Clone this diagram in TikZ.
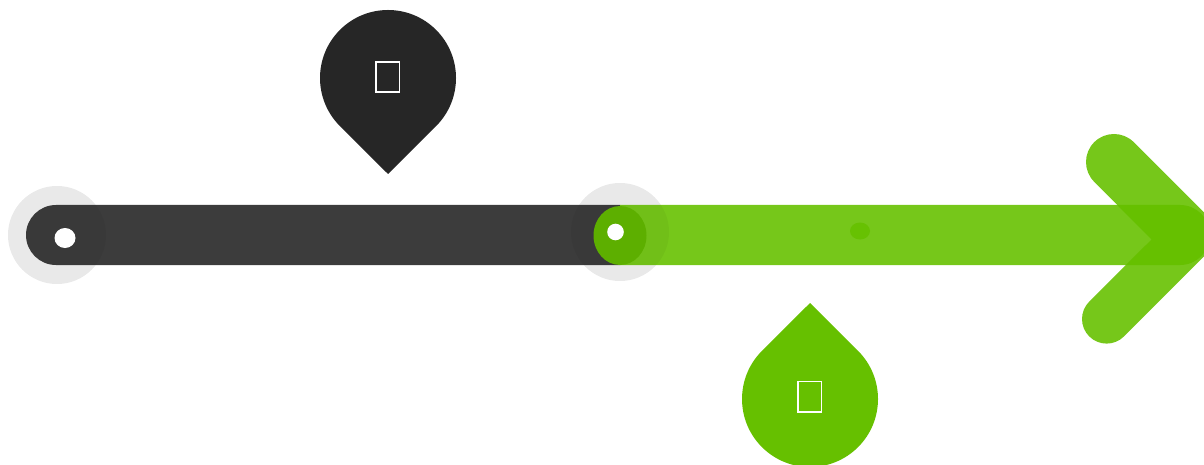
\documentclass[tikz,border=0pt]{standalone}
\definecolor{pindark}{HTML}{262626}
\definecolor{bardark}{HTML}{3C3C3C}
\definecolor{pingreen}{HTML}{66C000}
\definecolor{bargreen}{HTML}{76C71A}
\definecolor{jointgreen}{HTML}{5DAF00}
\tikzset{
  glyphbox/.style={draw=white,line width=1.8pt,fill=none,minimum width=23.4pt,minimum height=30.2pt,inner sep=0pt}
}
\newcommand{\arrowoutline}{(1133.8,142.2) -- (1226,234.4) -- (1124,336.4) arc[start angle=-45,end angle=-225,radius=24.6pt] -- (1151.5,239.5) -- (1094.2,181.8) arc[start angle=225,end angle=45,radius=28pt] -- cycle}
\newcommand{\greenbarpath}{(620,205) -- (1180,205) arc[start angle=90,end angle=-90,radius=30pt] -- (620,265) -- cycle}
\begin{document}
\begin{tikzpicture}[x=1pt,y=-1pt]
\useasboundingbox (0,0) rectangle (1204,465);
\clip (0,0) rectangle (1204,465);
% halos, lower layer
\fill[black,opacity=.05] (57,235) circle (49);
\fill[black,opacity=.05] (620,232) circle (49);
% dark bar
\fill[bardark] (56,205) -- (620,205) -- (620,265) -- (56,265) arc[start angle=-90,end angle=-270,radius=30pt] -- cycle;
% green bar and arrow head
\fill[bargreen] \greenbarpath;
\fill[bargreen] \arrowoutline;
\begin{scope}
  \clip \greenbarpath;
  \fill[pingreen] \arrowoutline;
\end{scope}
% halos, upper layer
\fill[black,opacity=.04] (57,235) circle (49);
\fill[black,opacity=.04] (620,232) circle (49);
% joint and dots
\fill[jointgreen] (620,235.5) ellipse (26.5 and 29.5);
\fill[white] (65,238) ellipse (10.5 and 10);
\fill[white] (615.5,232) circle (8.3);
\fill[pingreen!92!bargreen] (860,231) ellipse (10 and 8.5);
% dark pin
\fill[pindark] (339.92,126.08) arc[start angle=225,end angle=-45,radius=68pt] -- (388,174) -- cycle;
\node[glyphbox] (glyphdark) at (387.7,77.3) {};
% green pin
\fill[pingreen] (761.92,350.92) arc[start angle=135,end angle=405,radius=68pt] -- (810,303) -- cycle;
\node[glyphbox] (glyphgreen) at (809.7,396.5) {};
\end{tikzpicture}
\end{document}
